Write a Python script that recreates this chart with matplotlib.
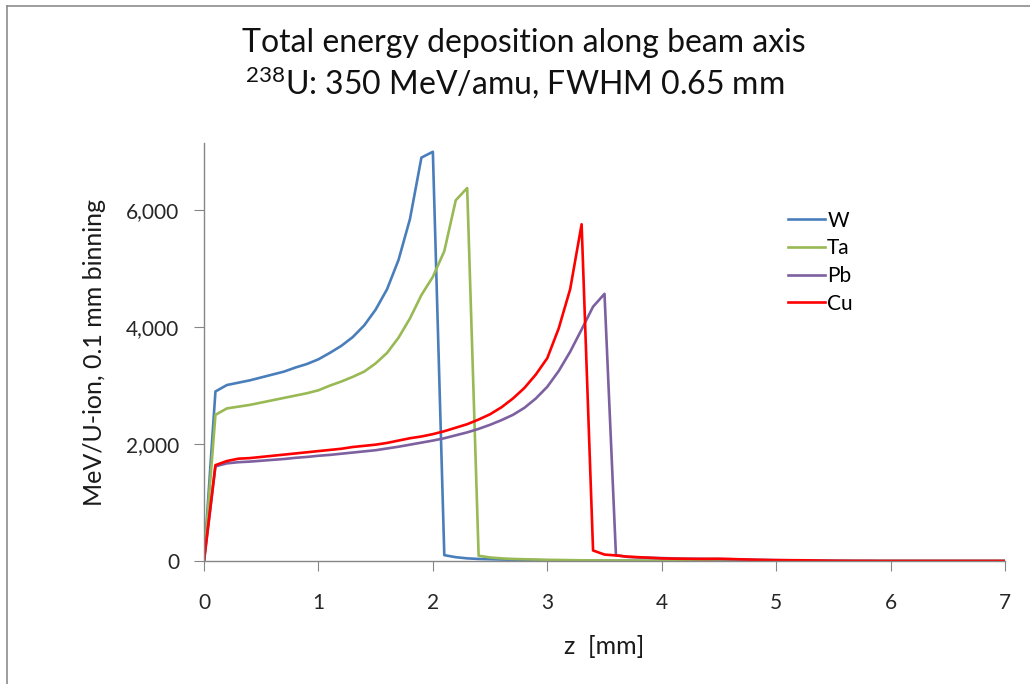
import numpy as np
import matplotlib
matplotlib.use("Agg")
from matplotlib import pyplot as plt
from matplotlib.lines import Line2D

plt.rcParams['font.family'] = ['Lato', 'DejaVu Sans']
plt.rcParams['mathtext.fontset'] = 'custom'
plt.rcParams['mathtext.rm'] = 'Lato'

# depth bins, 0.1 mm
z = np.round(np.arange(71) * 0.1, 1)

# energy deposition per bin (MeV/U-ion)
w = [0, 2900, 3010, 3050, 3090, 3140, 3190, 3240, 3310, 3370, 3450, 3560, 3680, 3830,
     4030, 4300, 4650, 5150, 5850, 6900, 7000,
     100, 65, 45, 35, 30, 25, 22, 18, 15, 12,
     10, 9, 8, 7, 6, 5, 5, 4, 4, 3,
     3, 3, 2, 2, 2, 2, 1, 1, 1, 1,
     1, 1, 1, 1, 0, 0, 0, 0, 0, 0,
     0, 0, 0, 0, 0, 0, 0, 0, 0, 0]
ta = [0, 2500, 2610, 2640, 2670, 2710, 2750, 2790, 2830, 2870, 2920, 3000, 3070, 3150,
      3240, 3380, 3560, 3820, 4150, 4550, 4860, 5300, 6170, 6380,
      90, 60, 45, 35, 30, 25, 20,
      18, 15, 12, 10, 9, 8, 7, 6, 5, 5,
      4, 4, 3, 3, 3, 2, 2, 2, 2, 1,
      1, 1, 1, 1, 0, 0, 0, 0, 0, 0,
      0, 0, 0, 0, 0, 0, 0, 0, 0, 0]
pb = [0, 1620, 1670, 1690, 1700, 1715, 1730, 1745, 1765, 1780, 1800, 1815, 1835, 1855,
      1875, 1895, 1925, 1955, 1990, 2025, 2060, 2100, 2150, 2200, 2260, 2330, 2410,
      2500, 2620, 2780, 2980, 3250, 3580, 3960, 4350, 4570,
      100, 70, 60, 55, 50,
      45, 40, 38, 36, 34, 30, 26, 22, 18, 15,
      12, 10, 8, 6, 4, 2, 1, 1, 0, 0,
      0, 0, 0, 0, 0, 0, 0, 0, 0, 0]
cu = [0, 1640, 1710, 1750, 1760, 1780, 1800, 1820, 1840, 1860, 1880, 1900, 1920, 1950,
      1970, 1990, 2020, 2060, 2100, 2130, 2170, 2220, 2280, 2340, 2420, 2510, 2630,
      2780, 2960, 3190, 3470, 3980, 4650, 5760,
      180, 110, 95, 75, 65, 55, 45,
      40, 38, 36, 36, 38, 34, 28, 22, 18, 15,
      14, 13, 10, 6, 3, 2, 1, 1, 0, 0,
      0, 0, 0, 0, 0, 0, 0, 0, 0, 0]

names = ['W', 'Ta', 'Pb', 'Cu']
colors = ['#4a7ebb', '#98b954', '#7d60a0', '#ff0000']

fig = plt.figure(figsize=(10.3, 6.84), dpi=100)
ax = fig.add_axes([204 / 1030, 1 - 561 / 684, 801 / 1030, 418 / 684])

for ys, c in zip([w, ta, pb, cu], colors):
    ax.plot(z, ys, color=c, lw=1.9)

ax.set_xlim(0, 7)
ax.set_ylim(0, 7150)
ax.set_xticks(range(8))
ax.set_yticks([0, 2000, 4000, 6000])
ax.set_yticklabels(['0', '2,000', '4,000', '6,000'])
for s in ['top', 'right']:
    ax.spines[s].set_visible(False)
for s in ['left', 'bottom']:
    ax.spines[s].set_color('#868686')
    ax.spines[s].set_linewidth(1.0)
ax.tick_params(axis='both', direction='out', length=7, color='#868686',
               labelsize=15, labelcolor='#262626')
ax.tick_params(axis='x', pad=16)
ax.tick_params(axis='y', pad=11)

ax.set_xlabel('z  [mm]', fontsize=18, labelpad=16, color='#1a1a1a')
ax.set_ylabel('MeV/U-ion, 0.1 mm binning', fontsize=18, labelpad=14, color='#1a1a1a')

handles = [Line2D([], [], color=c, lw=1.9) for c in colors]
ax.legend(handles, names, loc='upper left', bbox_to_anchor=(0.706, 0.883),
          frameon=False, fontsize=15, handlelength=1.75, handletextpad=0.12,
          labelspacing=0.37)

fig.text(524 / 1030, 1 - 43 / 684, 'Total energy deposition along beam axis',
         ha='center', va='center', fontsize=23, color='#111111')
fig.text(0.5, 1 - 83 / 684, r'$\mathregular{^{238}}$U: 350 MeV/amu, FWHM 0.65 mm',
         ha='center', va='center', fontsize=23, color='#111111')

# slide frame
fig.add_artist(Line2D([7 / 1030, 1], [1 - 6 / 684, 1 - 6 / 684], color='#8c8c8c', lw=1.2,
                      transform=fig.transFigure))
fig.add_artist(Line2D([7 / 1030, 7 / 1030], [0, 1 - 6 / 684], color='#8c8c8c', lw=1.2,
                      transform=fig.transFigure))

fig.savefig('out.png', dpi=100)
